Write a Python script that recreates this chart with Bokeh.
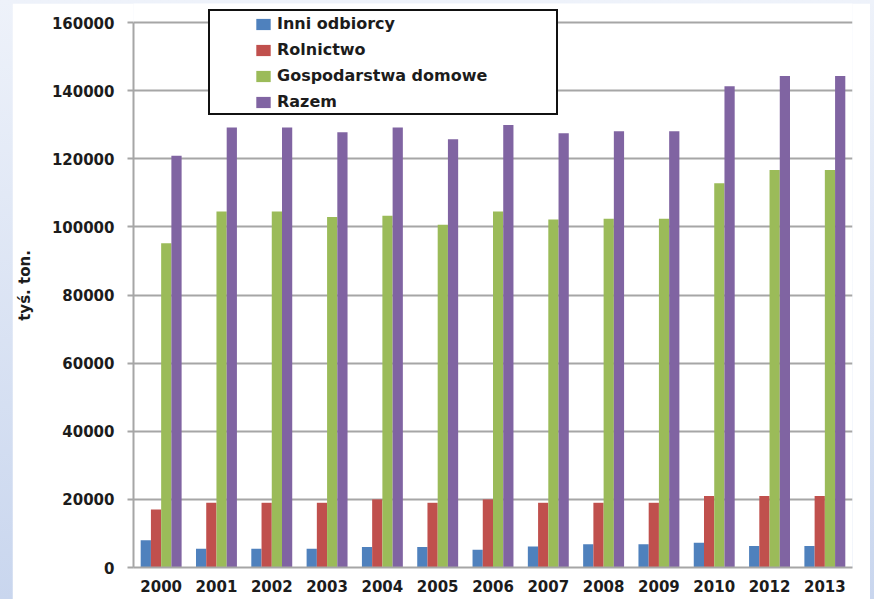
from bokeh.plotting import figure
from bokeh.models import (ColumnDataSource, FactorRange, Legend, LegendItem,
                          SingleIntervalTicker, NumeralTickFormatter, Range1d)
from bokeh.layouts import column
from bokeh.transform import dodge
from bokeh.embed import file_html
from bokeh.resources import INLINE

# Zużycie (tys. ton) według odbiorców
years = ["2000", "2001", "2002", "2003", "2004", "2005", "2006",
         "2007", "2008", "2009", "2010", "2012", "2013"]
inni_odbiorcy = [8000, 5500, 5500, 5500, 6000, 6000, 5200,
                 6200, 6800, 6800, 7300, 6300, 6300]
rolnictwo = [17000, 19000, 19000, 19000, 20000, 19000, 20000,
             19000, 19000, 19000, 21000, 21000, 21000]
gospodarstwa_domowe = [95200, 104500, 104500, 102900, 103300, 100600, 104500,
                       102200, 102400, 102400, 112800, 116700, 116700]
razem = [120900, 129200, 129200, 127800, 129200, 125700, 129900,
         127500, 128100, 128100, 141300, 144300, 144300]

series_names = ["Inni odbiorcy", "Rolnictwo", "Gospodarstwa domowe", "Razem"]
series_cols = ["inni", "rol", "gosp", "razem"]
colors = ["#4f81bd", "#c0504d", "#9bbb59", "#8064a2"]

source = ColumnDataSource(dict(
    years=years, inni=inni_odbiorcy, rol=rolnictwo,
    gosp=gospodarstwa_domowe, razem=razem,
))

FONT = "DejaVu Sans"
TEXT = "#1c1c1c"
GRID = "#a6a6a6"

# value axis tops out at 160000; the frame runs up to the top edge
# so the legend box can sit partly above the top gridline
Y_MAX = 160000
FRAME_H = 564
AXIS_H = 545

p = figure(
    x_range=FactorRange(*years, range_padding=0),
    y_range=Range1d(0, Y_MAX * FRAME_H / AXIS_H),
    width=858, height=596,
    min_border_left=120, min_border_right=18,
    min_border_top=0, min_border_bottom=32,
    output_backend="svg", toolbar_location=None,
    background_fill_color="white", border_fill_color="white",
    outline_line_color=None,
)
p.margin = (3, 4, 0, 12)

bar_w = 0.185
offsets = [-1.5 * bar_w, -0.5 * bar_w, 0.5 * bar_w, 1.5 * bar_w]
renderers = []
for col, off, c in zip(series_cols, offsets, colors):
    r = p.vbar(x=dodge("years", off, range=p.x_range), top=col, width=bar_w,
               source=source, fill_color=c, line_color=None)
    renderers.append(r)

# axes
p.yaxis.ticker = SingleIntervalTicker(interval=20000)
p.yaxis.formatter = NumeralTickFormatter(format="0")
p.yaxis.bounds = (0, Y_MAX)
p.yaxis.axis_label = "tyś. ton."
p.yaxis.axis_label_text_font = FONT
p.yaxis.axis_label_text_font_size = "15px"
p.yaxis.axis_label_text_font_style = "bold"
p.yaxis.axis_label_text_color = TEXT
p.yaxis.axis_label_standoff = 15
p.yaxis.major_label_text_font = FONT
p.yaxis.major_label_text_font_size = "15px"
p.yaxis.major_label_text_font_style = "bold"
p.yaxis.major_label_text_color = TEXT
p.yaxis.major_label_standoff = 13
p.yaxis.major_tick_out = 6
p.yaxis.major_tick_in = 0
p.yaxis.minor_tick_out = 0
p.yaxis.minor_tick_in = 0
p.yaxis.axis_line_color = GRID
p.yaxis.axis_line_width = 2
p.yaxis.major_tick_line_color = GRID
p.yaxis.major_tick_line_width = 2

p.xaxis.major_label_text_font = FONT
p.xaxis.major_label_text_font_size = "15px"
p.xaxis.major_label_text_font_style = "bold"
p.xaxis.major_label_text_color = TEXT
p.xaxis.major_label_standoff = 12
p.xaxis.major_tick_out = 0
p.xaxis.major_tick_in = 0
p.xaxis.axis_line_color = GRID
p.xaxis.axis_line_width = 2

p.xgrid.grid_line_color = None
p.ygrid.grid_line_color = GRID
p.ygrid.grid_line_width = 2
p.ygrid.bounds = (0, Y_MAX)

# legend frame (white box with dark border)
dummy = p.vbar(x=["2000"], top=[0], width=0.1, fill_alpha=0, line_alpha=0)
frame_legend = Legend(
    items=[LegendItem(label=" ", renderers=[dummy])],
    location=(75, 452), margin=0, padding=0,
    glyph_width=1, glyph_height=1, label_standoff=0,
    label_width=345, label_height=102, spacing=0,
    label_text_font_size="1px",
    border_line_color="#111111", border_line_width=2, border_line_alpha=1,
    background_fill_color="white", background_fill_alpha=1,
)
p.add_layout(frame_legend, "center")

# legend entries
items = [LegendItem(label=n, renderers=[r]) for n, r in zip(series_names, renderers)]
legend = Legend(
    items=items, location=(121, 456), margin=0, padding=0,
    glyph_width=18, glyph_height=14, label_standoff=5,
    label_height=19, spacing=7,
    label_text_font=FONT, label_text_font_size="16px",
    label_text_font_style="bold", label_text_color=TEXT,
    border_line_color=None, background_fill_alpha=0,
)
p.add_layout(legend, "center")

page = column(p, width=874, height=599,
              styles={"background": "linear-gradient(#eef2fa, #c9d6ee)"})

open("out.html", "w").write(file_html(page, INLINE))
